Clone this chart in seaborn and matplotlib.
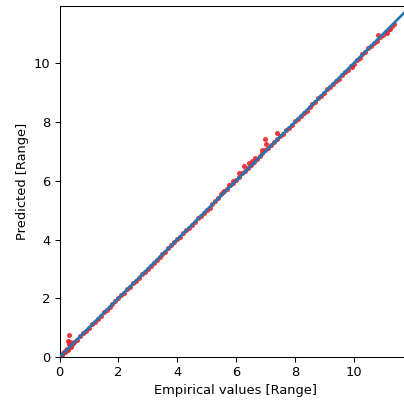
import numpy as np
import pandas as pd
import matplotlib
matplotlib.use("Agg")
import matplotlib.pyplot as plt
import seaborn as sns

# --- data ---
empirical = [
    0.02, 0.05, 0.08, 0.12, 0.15, 0.18, 0.22, 0.25, 0.28, 0.30, 0.32, 0.33,
    0.34, 0.35, 0.36, 0.38, 0.42, 0.46,
    0.5, 0.6, 0.7, 0.8, 0.9, 1.0, 1.1, 1.2, 1.3, 1.4, 1.5, 1.6, 1.7, 1.8, 1.9,
    2.0, 2.1, 2.2, 2.3, 2.4, 2.5, 2.6, 2.7, 2.8, 2.9, 3.0, 3.1, 3.2, 3.3, 3.4,
    3.5, 3.6, 3.7, 3.8, 3.9, 4.0, 4.1, 4.2, 4.3, 4.4, 4.5, 4.6, 4.7, 4.8, 4.9,
    5.0, 5.1, 5.2, 5.3, 5.4, 5.5, 5.6, 5.7, 5.8, 5.9, 6.0, 6.1, 6.2, 6.3, 6.4,
    6.5, 6.6, 6.7, 6.8, 6.9, 7.0, 7.1, 7.2, 7.3, 7.4, 7.5, 7.6, 7.7, 7.8, 7.9,
    8.0, 8.1, 8.2, 8.3, 8.4, 8.5, 8.6, 8.7, 8.8, 8.9, 9.0, 9.1, 9.2, 9.3, 9.4,
    9.5, 9.6, 9.7, 9.8, 9.9, 10.0, 10.1, 10.2, 10.3, 10.4, 10.5, 10.6, 10.7,
    10.8, 10.9, 11.0, 11.1, 11.2, 11.3, 11.36,
    # points off the diagonal
    7.38, 7.00, 7.03, 6.26, 6.11, 6.66, 5.55, 5.75, 6.90, 6.45, 6.55, 5.90,
    10.84, 11.13, 11.22, 9.94,
]
predicted = [
    0.04, 0.07, 0.07, 0.13, 0.17, 0.17, 0.23, 0.28, 0.25, 0.56, 0.45, 0.75,
    0.36, 0.50, 0.41, 0.33, 0.43, 0.47,
    0.51, 0.59, 0.71, 0.82, 0.89, 1.00, 1.12, 1.18, 1.31, 1.39, 1.52, 1.59,
    1.70, 1.82, 1.89, 2.01, 2.12, 2.19, 2.31, 2.39, 2.52, 2.60, 2.69, 2.82,
    2.91, 2.99, 3.11, 3.21, 3.29, 3.41, 3.50, 3.59, 3.72, 3.80, 3.91, 4.03,
    4.09, 4.21, 4.31, 4.39, 4.51, 4.60, 4.72, 4.79, 4.91, 5.02, 5.09, 5.22,
    5.31, 5.40, 5.55, 5.65, 5.71, 5.84, 5.92, 6.04, 6.13, 6.25, 6.33, 6.45,
    6.55, 6.64, 6.75, 6.83, 6.94, 7.04, 7.13, 7.22, 7.33, 7.42, 7.52, 7.60,
    7.72, 7.80, 7.91, 8.02, 8.09, 8.22, 8.31, 8.39, 8.51, 8.60, 8.69, 8.82,
    8.90, 8.99, 9.11, 9.19, 9.31, 9.40, 9.48, 9.61, 9.70, 9.78, 9.90, 9.97,
    10.11, 10.19, 10.30, 10.38, 10.51, 10.59, 10.70, 10.77, 10.91, 10.97,
    11.08, 11.17, 11.27, 11.33,
    7.64, 7.41, 7.24, 6.51, 6.25, 6.79, 5.63, 5.84, 7.05, 6.60, 6.68, 6.00,
    10.96, 11.02, 11.17, 9.88,
]
identity = [0.0, 12.0]

df = pd.DataFrame({"empirical": empirical, "predicted": predicted})
line_df = pd.DataFrame({"x": identity, "y": identity})

dpi = 94
fig = plt.figure(figsize=(404 / dpi, 401 / dpi), dpi=dpi)
ax = fig.add_axes([0.1473, 0.1097, 0.870, 0.8753])

sns.scatterplot(data=df, x="empirical", y="predicted", ax=ax,
                color="#e8262e", s=15, linewidth=0, alpha=0.9, zorder=2)
sns.lineplot(data=line_df, x="x", y="y", ax=ax, color="#1f77b4",
             linewidth=2, zorder=3)

ax.set_xlim(0, 11.95)
ax.set_ylim(0, 11.95)
ax.set_xticks([0, 2, 4, 6, 8, 10])
ax.set_yticks([0, 2, 4, 6, 8, 10])
ax.set_xlabel("Empirical values [Range]")
ax.set_ylabel("Predicted [Range]")

fig.savefig("out.png", dpi=dpi)
